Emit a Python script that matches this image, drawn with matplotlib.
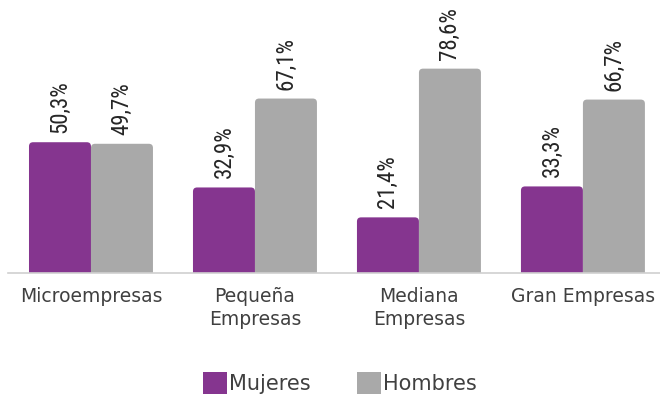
import matplotlib
matplotlib.use("Agg")
import matplotlib.pyplot as plt
import numpy as np
from matplotlib.patches import Patch, FancyBboxPatch
from matplotlib import font_manager

categories = ["Microempresas", "Pequeña\nEmpresas", "Mediana\nEmpresas", "Gran Empresas"]
mujeres = [50.3, 32.9, 21.4, 33.3]
hombres = [49.7, 67.1, 78.6, 66.7]
series_names = ["Mujeres", "Hombres"]

purple = "#85358F"
gray = "#A9A9A9"
text_color = "#404040"

# pick a narrow face for the value labels if one is installed
names = {f.name for f in font_manager.fontManager.ttflist}
narrow = [n for n in ("Liberation Sans Narrow", "Roboto Condensed", "Open Sans Condensed",
                      "DejaVu Sans Condensed") if n in names]
label_font = narrow + ["DejaVu Sans"]

fig = plt.figure(figsize=(6.6, 3.95), dpi=100)
ax = fig.add_axes([8 / 660, (395 - 273) / 395, 652 / 660, 260 / 395])

x = np.arange(len(categories))
w = 0.378
ax.set_xlim(-0.506, 3.47)
ax.set_ylim(0, 100)

b1 = ax.bar(x - w / 2, mujeres, width=w, color=purple, linewidth=0)
b2 = ax.bar(x + w / 2, hombres, width=w, color=gray, linewidth=0)

# soften the top corners: redraw each bar as a rounded box that starts below the baseline
bbox = ax.get_position()
px_x = bbox.width * 660 / (3.47 + 0.506)
px_y = bbox.height * 395 / 100
for bars in (b1, b2):
    for rect in bars:
        rect.set_visible(False)
        r = FancyBboxPatch((rect.get_x(), -3), rect.get_width(), rect.get_height() + 3,
                           boxstyle="round,pad=0,rounding_size=0.025",
                           mutation_aspect=px_x / px_y,
                           facecolor=rect.get_facecolor(), linewidth=0, clip_on=True)
        ax.add_patch(r)

for bars, vals in ((b1, mujeres), (b2, hombres)):
    for rect, v in zip(bars, vals):
        ax.annotate(f"{v:.1f}%".replace(".", ","),
                    xy=(rect.get_x() + rect.get_width() / 2, v),
                    xytext=(0, 6.5), textcoords="offset points",
                    rotation=90, ha="center", va="bottom",
                    fontsize=16.5, color="#262626", family=label_font,
                    fontstretch="condensed")

ax.set_xticks(x)
ax.set_xticklabels(categories, fontsize=13.5, color=text_color,
                   family="DejaVu Sans", linespacing=1.3)
ax.tick_params(axis="x", length=0, pad=10)
ax.set_yticks([])
for side in ("top", "right", "left"):
    ax.spines[side].set_visible(False)
ax.spines["bottom"].set_color("#D0D0D0")
ax.spines["bottom"].set_linewidth(1.2)
ax.spines["bottom"].set_zorder(3)

handles = [Patch(facecolor=purple, label=series_names[0]),
           Patch(facecolor=gray, label=series_names[1])]
fig.legend(handles=handles, loc="center", bbox_to_anchor=(0.515, 0.03),
           ncol=2, frameon=False, fontsize=15, handlelength=1.15,
           handleheight=1.2, handletextpad=0.1, columnspacing=2.2,
           labelcolor=text_color)

fig.savefig("out.png", dpi=100)
